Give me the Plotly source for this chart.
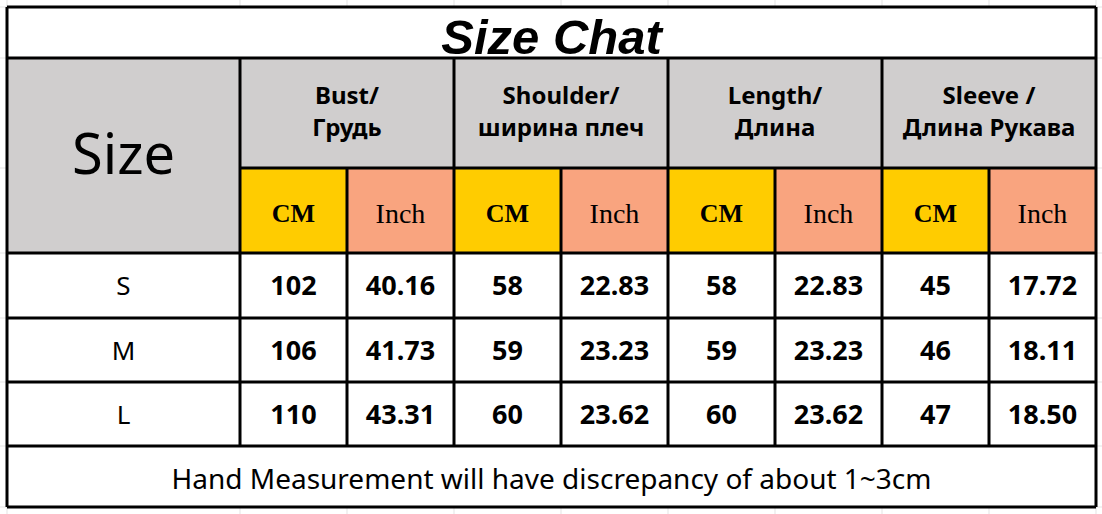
import plotly.graph_objects as go

# data
title = "Size Chat"
size_label = "Size"
sizes = ["S", "M", "L"]
measures = ["Bust/<br>Грудь", "Shoulder/<br>ширина плеч", "Length/<br>Длина", "Sleeve /<br>Длина Рукава"]
units = ["CM", "Inch"]
bust_cm = [102, 106, 110]
bust_inch = [40.16, 41.73, 43.31]
shoulder_cm = [58, 59, 60]
shoulder_inch = [22.83, 23.23, 23.62]
length_cm = [58, 59, 60]
length_inch = [22.83, 23.23, 23.62]
sleeve_cm = [45, 46, 47]
sleeve_inch = [17.72, 18.11, 18.50]
note = "Hand Measurement will have discrepancy of about 1~3cm"

# layout of the grid (pixels)
W, H = 1102, 514
col_edges = [7, 240, 347, 454, 561, 668, 775, 882, 989, 1096]
row_edges = [7, 58, 168, 253, 318, 382, 446, 507]
GRAY = "#D0CECE"
YELLOW = "#FFCC00"
SALMON = "#F9A47F"
SANS = "Noto Sans, Open Sans, sans-serif"
SERIF = "Liberation Serif, Times New Roman, serif"

fig = go.Figure()
shapes = []


def cell(x0, x1, y0, y1, fill):
    shapes.append(dict(type="rect", x0=x0, x1=x1, y0=y0, y1=y1, xref="x", yref="y",
                       fillcolor=fill, line=dict(width=0), layer="below"))


def line(x0, y0, x1, y1, color="black", width=3):
    shapes.append(dict(type="line", x0=x0, x1=x1, y0=y0, y1=y1, xref="x", yref="y",
                       line=dict(color=color, width=width)))


def text(xs, ys, labels, size, family=SANS, weight="normal", style="normal"):
    fig.add_trace(go.Scatter(x=xs, y=ys, text=labels, mode="text",
                             textposition="middle center", hoverinfo="skip",
                             textfont=dict(family=family, size=size, color="black",
                                           weight=weight, style=style)))


def mid(a, b):
    return (a + b) / 2


# faint spreadsheet gridlines outside the table
for x in col_edges:
    line(x, 0, x, row_edges[0], "#E3E3E3", 1)
    line(x, row_edges[-1], x, H, "#E3E3E3", 1)
for y in row_edges:
    line(0, y, col_edges[0], y, "#E3E3E3", 1)
    line(col_edges[-1], y, W, y, "#E3E3E3", 1)

# fills
cell(col_edges[0], col_edges[-1], row_edges[1], row_edges[2], GRAY)
cell(col_edges[0], col_edges[1], row_edges[2], row_edges[3], GRAY)
for j in range(8):
    cell(col_edges[j + 1], col_edges[j + 2], row_edges[2], row_edges[3], YELLOW if j % 2 == 0 else SALMON)

# borders
for k, y in enumerate(row_edges):
    # the size column spans both header rows
    x_start = col_edges[1] if k == 2 else col_edges[0]
    line(x_start, y, col_edges[-1], y)
line(col_edges[0], row_edges[0], col_edges[0], row_edges[-1])
line(col_edges[-1], row_edges[0], col_edges[-1], row_edges[-1])
for k, x in enumerate(col_edges[1:-1]):
    # measure group separators go through the whole header, unit separators start at unit row
    top = row_edges[1] if k % 2 == 0 else row_edges[2]
    line(x, top, x, row_edges[-2])

# title and note
text([mid(col_edges[0], col_edges[-1])], [42], [title], 49,
     family="Liberation Sans, Arial, sans-serif", weight="bold", style="italic")
text([mid(col_edges[0], col_edges[-1])], [mid(row_edges[-2], row_edges[-1]) + 5], [note], 28)

# header
text([mid(col_edges[0], col_edges[1])], [mid(row_edges[1], row_edges[3]) + 4], [size_label], 56)
text([mid(col_edges[1 + 2 * i], col_edges[3 + 2 * i]) for i in range(4)],
     [mid(row_edges[1], row_edges[2]) + 1] * 4, measures, 24, weight="bold")
unit_x = [mid(col_edges[j + 1], col_edges[j + 2]) for j in range(8)]
unit_y = mid(row_edges[2], row_edges[3]) + 5
text(unit_x[0::2], [unit_y] * 4, [units[0]] * 4, 26, family=SERIF, weight="bold")
text(unit_x[1::2], [unit_y] * 4, [units[1]] * 4, 28, family=SERIF)

# body
columns = [bust_cm, bust_inch, shoulder_cm, shoulder_inch,
           length_cm, length_inch, sleeve_cm, sleeve_inch]
row_y = [mid(row_edges[3 + i], row_edges[4 + i]) + 3 for i in range(3)]
text([mid(col_edges[0], col_edges[1])] * 3, row_y, sizes, 26)
for j, col in enumerate(columns):
    labels = [str(v) if j % 2 == 0 else "%.2f" % v for v in col]
    text([unit_x[j]] * 3, row_y, labels, 27, weight="bold")

fig.update_layout(width=W, height=H, margin=dict(l=0, r=0, t=0, b=0),
                  plot_bgcolor="white", paper_bgcolor="white",
                  showlegend=False, shapes=shapes)
fig.update_xaxes(range=[0, W], visible=False, fixedrange=True)
fig.update_yaxes(range=[H, 0], visible=False, fixedrange=True)

fig.write_html("out.html", config=dict(displayModeBar=False),
               post_script="document.body.style.margin='0';")
